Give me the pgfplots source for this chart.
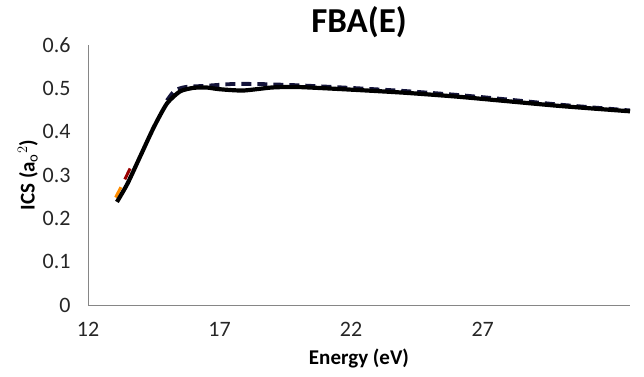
\documentclass[border=0pt]{standalone}
\usepackage{pgfplots}
\pgfplotsset{compat=1.18}
\usepackage{fontspec}
\setmainfont{Carlito}
\definecolor{axgray}{HTML}{868686}
\definecolor{navy}{HTML}{14143A}
\begin{document}
\begin{tikzpicture}[x=1pt,y=1pt]
\path[use as bounding box] (0,0) rectangle (644,376);
\begin{axis}[
  at={(88pt,71pt)}, anchor=south west,
  scale only axis, width=542pt, height=260pt,
  xmin=12, xmax=32.6, ymin=0, ymax=0.6,
  xtick={12,17,22,27}, ytick={0,0.1,...,0.6},
  yticklabel style={/pgf/number format/fixed,/pgf/number format/precision=1},
  /pgf/number format/assume math mode=true,
  tick label style={font=\fontsize{22}{24}\selectfont, text=black!85},
  axis x line*=bottom, axis y line*=left,
  axis line style={axgray, line width=1pt, -},
  major tick length=0pt,
  xticklabel style={yshift=-14pt},
  yticklabel style={xshift=-14pt},
  title={\bfseries FBA(E)},
  title style={font=\fontsize{35}{38}\selectfont\bfseries, yshift=-2pt},
  xlabel={Energy (eV)}, ylabel={ICS (a$_\mathrm{o}$$^2$)},
  label style={font=\fontsize{21}{23}\selectfont\bfseries},
  xlabel style={yshift=-5pt},
  ylabel style={yshift=-2pt},
  clip=false,
]
\addplot[orange!90!yellow, line width=3pt] coordinates {(13.05,0.248)(13.25,0.272)};
\addplot[red!60!black, line width=3pt] coordinates {(13.4,0.29)(13.6,0.315)};
\addplot[navy, line width=3.8pt, dash pattern=on 10pt off 6pt, smooth, tension=0.4] coordinates {
(15.0,0.472)(15.3,0.495)(15.7,0.503)(16.5,0.506)(17.5,0.51)(18.5,0.51)(20,0.507)(22,0.501)(24,0.494)(26,0.485)(28,0.474)(30,0.462)(32.6,0.449)};
\addplot[black, line width=4.2pt, smooth, tension=0.4] coordinates {
(13.1,0.238)(13.5,0.28)(14.0,0.345)(14.5,0.41)(15.0,0.465)(15.5,0.493)(16.0,0.501)(16.5,0.502)(17.0,0.498)(17.9,0.495)(19.0,0.502)(20.0,0.503)(22.0,0.497)(24.0,0.49)(26.0,0.481)(28.0,0.47)(30.0,0.459)(32.6,0.447)};
\end{axis}
\end{tikzpicture}
\end{document}
